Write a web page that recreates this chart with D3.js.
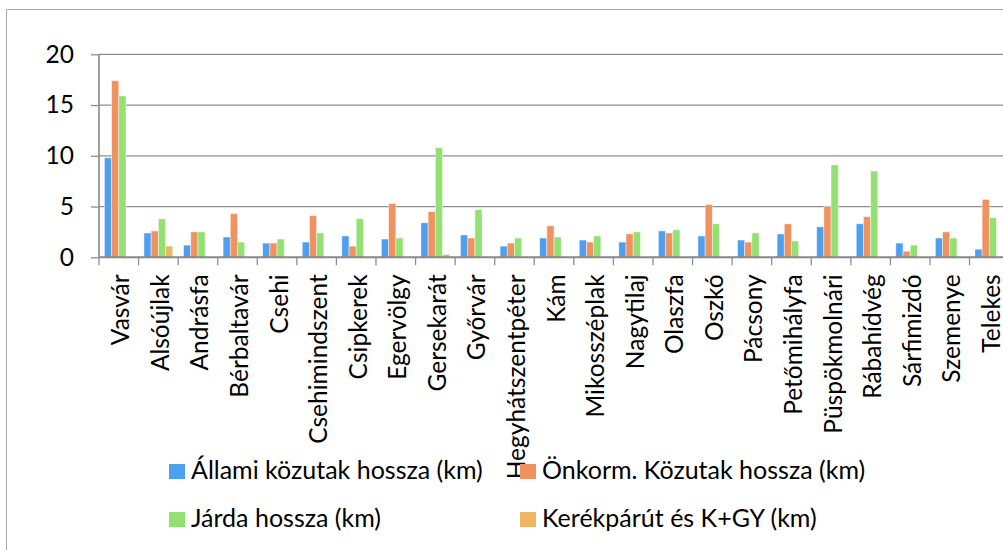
<!DOCTYPE html>
<html>
<head>
<meta charset="utf-8">
<script src="https://cdn.jsdelivr.net/npm/d3@7"></script>
<style>
  html, body { margin: 0; padding: 0; background: #fff; overflow: hidden; }
  svg { display: block; font-family: Lato, "Open Sans", sans-serif; }
</style>
</head>
<body>
<svg id="chart" width="1003" height="550"></svg>
<script>
// Road lengths per settlement (km)
const categories = ["Vasvár","Alsóújlak","Andrásfa","Bérbaltavár","Csehi","Csehimindszent","Csipkerek","Egervölgy","Gersekarát","Győrvár","Hegyhátszentpéter","Kám","Mikosszéplak","Nagytilaj","Olaszfa","Oszkó","Pácsony","Petőmihályfa","Püspökmolnári","Rábahídvég","Sárfimizdó","Szemenye","Telekes"];
const allami   = [9.8, 2.4, 1.2, 2.0, 1.4, 1.5, 2.1, 1.8, 3.4, 2.2, 1.1, 1.9, 1.7, 1.5, 2.6, 2.1, 1.7, 2.3, 3.0, 3.3, 1.4, 1.9, 0.8];
const onkorm   = [17.4, 2.6, 2.5, 4.3, 1.4, 4.1, 1.1, 5.3, 4.5, 1.9, 1.4, 3.1, 1.5, 2.3, 2.4, 5.2, 1.5, 3.3, 5.0, 4.0, 0.6, 2.5, 5.7];
const jarda    = [15.9, 3.8, 2.5, 1.5, 1.8, 2.4, 3.8, 1.9, 10.8, 4.7, 1.9, 2.0, 2.1, 2.5, 2.7, 3.3, 2.4, 1.6, 9.1, 8.5, 1.2, 1.9, 3.9];
const kerekpar = [0, 1.1, 0, 0, 0, 0, 0, 0, 0.3, 0, 0, 0, 0, 0, 0, 0, 0, 0, 0, 0, 0, 0, 0];
const seriesNames = ["Állami közutak hossza (km)", "Önkorm. Közutak hossza (km)", "Járda hossza (km)", "Kerékpárút és K+GY (km)"];
const yTicks = [0, 5, 10, 15, 20];

const seriesValues = [allami, onkorm, jarda, kerekpar];
const colors = ["#4F9FF1", "#F0925F", "#94E173", "#EDB664"];

const svg = d3.select("#chart");

// outer chart frame (left and top edges; the rest lies outside the view)
svg.append("path")
  .attr("d", "M6.5,560V9.5H1010")
  .attr("fill", "none").attr("stroke", "#a6a6a6").attr("stroke-width", 1);

const plotLeft = 99, plotTop = 54.3, plotBottom = 257.3;
const catW = 39.57;
const plotRight = plotLeft + catW * categories.length;

const x = d3.scaleBand().domain(categories).range([plotLeft, plotRight]).paddingInner(0).paddingOuter(0);
// 4 bars + a gap of 1.5 bar widths per category
const barW = catW / 5.5;
const y = d3.scaleLinear().domain([0, 20]).range([plotBottom, plotTop]);

// horizontal gridlines
svg.append("g").selectAll("line").data(yTicks.filter(d => d > 0)).join("line")
  .attr("x1", plotLeft).attr("x2", plotRight + 20)
  .attr("y1", d => y(d)).attr("y2", d => y(d))
  .attr("stroke", "#8e8e8e").attr("stroke-width", 1.3);

// bars
const gBars = svg.append("g");
seriesValues.forEach((vals, si) => {
  gBars.selectAll(null).data(categories.map((c, i) => ({c, v: vals[i]})).filter(d => d.v > 0)).join("rect")
    .attr("x", d => x(d.c) + barW * 0.75 + si * barW)
    .attr("y", d => y(d.v))
    .attr("width", barW)
    .attr("height", d => y(0) - y(d.v))
    .attr("fill", colors[si])
    .attr("stroke", "rgba(255,255,255,0.55)")
    .attr("stroke-width", 0.8);
});

// y axis
const yAxis = d3.axisLeft(y).tickValues(yTicks).tickSize(8).tickPadding(17).tickFormat(d3.format("d"));
const gy = svg.append("g").attr("transform", `translate(${plotLeft},0)`).call(yAxis);
gy.select(".domain").attr("stroke", "#878787").attr("stroke-width", 1.6).attr("d", `M0,${plotTop}V${plotBottom}`);
gy.selectAll(".tick line").attr("stroke", "#8e8e8e").attr("stroke-width", 1.3);
gy.selectAll(".tick text").attr("font-size", 24.5).attr("fill", "#000").attr("font-family", "Lato");

// x axis with ticks at category boundaries
const gx = svg.append("g");
gx.append("line").attr("x1", plotLeft).attr("x2", plotRight + 20)
  .attr("y1", plotBottom).attr("y2", plotBottom)
  .attr("stroke", "#878787").attr("stroke-width", 2);
gx.selectAll("line.tk").data(d3.range(categories.length + 1)).join("line")
  .attr("class", "tk")
  .attr("x1", i => plotLeft + i * catW).attr("x2", i => plotLeft + i * catW)
  .attr("y1", plotBottom).attr("y2", plotBottom + 8)
  .attr("stroke", "#8e8e8e").attr("stroke-width", 1.3);
gx.selectAll("text").data(categories).join("text")
  .attr("transform", d => `translate(${x(d) + x.bandwidth() / 2 + 1},${plotBottom + 17}) rotate(-90)`)
  .attr("text-anchor", "end")
  .attr("dominant-baseline", "central")
  .attr("font-size", 24.5)
  .attr("fill", "#000")
  .text(d => d);

// legend
const legendItems = [
  {name: seriesNames[0], color: colors[0], x: 169, y: 464},
  {name: seriesNames[1], color: colors[1], x: 520, y: 464},
  {name: seriesNames[2], color: colors[2], x: 169, y: 512},
  {name: seriesNames[3], color: colors[3], x: 520, y: 512}
];
const gl = svg.append("g");
legendItems.forEach(it => {
  gl.append("rect").attr("x", it.x).attr("y", it.y).attr("width", 16).attr("height", 15).attr("fill", it.color);
  gl.append("text").attr("x", it.x + 22).attr("y", it.y + 14.5)
    .attr("font-size", 25).attr("fill", "#000").text(it.name);
});
</script>
</body>
</html>
